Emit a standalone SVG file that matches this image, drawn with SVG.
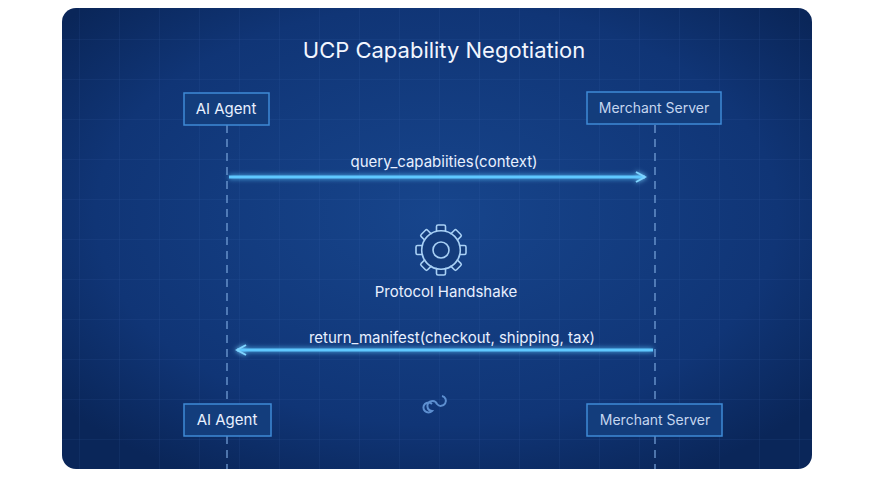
<svg xmlns="http://www.w3.org/2000/svg" width="875" height="477" viewBox="0 0 875 477">
<defs>
<radialGradient id="bg" cx="50%" cy="45%" r="65%">
<stop offset="0" stop-color="#17458c"/><stop offset="0.7" stop-color="#103576"/><stop offset="1" stop-color="#0a2659"/>
</radialGradient>
<pattern id="grid" width="40" height="40" patternUnits="userSpaceOnUse">
<path d="M40 0V40M0 40H40" fill="none" stroke="#4a78c0" stroke-opacity="0.18" stroke-width="1"/>
</pattern>
<filter id="glow" filterUnits="userSpaceOnUse" x="0" y="0" width="875" height="477"><feGaussianBlur stdDeviation="2.5" result="b"/><feMerge><feMergeNode in="b"/><feMergeNode in="SourceGraphic"/></feMerge></filter>
<marker id="ah" markerWidth="12" markerHeight="12" refX="10" refY="6" orient="auto" markerUnits="userSpaceOnUse"><path d="M1 1L10 6L1 11" fill="none" stroke="#7fd4ff" stroke-width="2"/></marker>
</defs>
<style>
.box{fill:#133d7c;stroke:#3f8ad6;stroke-width:1.5}
.lbl{font-family:Inter,"Liberation Sans",sans-serif;font-size:15px;fill:#e8f0ff;text-anchor:middle}
.lbl2{font-family:Inter,"Liberation Sans",sans-serif;font-size:14px;fill:#c5d6ef;text-anchor:middle}
.life{stroke:#7aa6dc;stroke-width:1.2;stroke-dasharray:8 6}
.msg{stroke:#5fc8ff;stroke-width:3;fill:none}
.gear{fill:#143c7c;stroke:#a8d0f5;stroke-width:1.6}
</style>
<rect width="875" height="477" fill="#fff"/>
<rect x="62" y="8" width="750" height="461" rx="14" fill="url(#bg)"/>
<rect x="62" y="8" width="750" height="461" rx="14" fill="url(#grid)"/>
<text x="444" y="58" class="lbl" style="font-size:22px;fill:#f2f6ff">UCP Capability Negotiation</text>
<g id="connectors">
<line class="life" x1="227" y1="125" x2="227" y2="404"/>
<line class="life" x1="227" y1="436" x2="227" y2="469"/>
<line class="life" x1="655" y1="125" x2="655" y2="404"/>
<line class="life" x1="655" y1="436" x2="655" y2="469"/>
<line class="msg" x1="229" y1="177" x2="645" y2="177" filter="url(#glow)" marker-end="url(#ah)"/>
<line class="msg" x1="653" y1="350" x2="237" y2="350" filter="url(#glow)" marker-end="url(#ah)"/>
<text x="444" y="167" class="lbl">query_capabiities(context)</text>
<text x="452" y="343" class="lbl">return_manifest(checkout, shipping, tax)</text>
</g>
<g id="agent-top"><rect class="box" x="184" y="93" width="85" height="32"/><text x="226" y="114" class="lbl">AI Agent</text></g>
<g id="merchant-top"><rect class="box" x="587" y="92" width="134" height="32"/><text x="654" y="113" class="lbl2">Merchant Server</text></g>
<g id="agent-bottom"><rect class="box" x="184" y="404" width="87" height="32"/><text x="227" y="425" class="lbl">AI Agent</text></g>
<g id="merchant-bottom"><rect class="box" x="587" y="404" width="135" height="32"/><text x="655" y="425" class="lbl2">Merchant Server</text></g>
<g id="handshake" transform="translate(441,250)">
<g class="gear">
<rect x="-4.5" y="-25" width="9" height="10" rx="1.5"/>
<rect x="-4.5" y="-25" width="9" height="10" rx="1.5" transform="rotate(45)"/>
<rect x="-4.5" y="-25" width="9" height="10" rx="1.5" transform="rotate(90)"/>
<rect x="-4.5" y="-25" width="9" height="10" rx="1.5" transform="rotate(135)"/>
<rect x="-4.5" y="-25" width="9" height="10" rx="1.5" transform="rotate(180)"/>
<rect x="-4.5" y="-25" width="9" height="10" rx="1.5" transform="rotate(225)"/>
<rect x="-4.5" y="-25" width="9" height="10" rx="1.5" transform="rotate(270)"/>
<rect x="-4.5" y="-25" width="9" height="10" rx="1.5" transform="rotate(315)"/>
<circle r="18.5" style="stroke:none"/>
<circle r="19.3" style="fill:none"/>
<circle r="8" style="fill:none"/>
</g>
<text x="5" y="47" class="lbl">Protocol Handshake</text>
</g>
<g id="logo"><path d="M432 404a5 5 0 1 0 0 7a5 5 0 1 1 5 -7a5 5 0 1 0 5 -8" fill="none" stroke="#5d8fd0" stroke-width="2"/></g>
</svg>
